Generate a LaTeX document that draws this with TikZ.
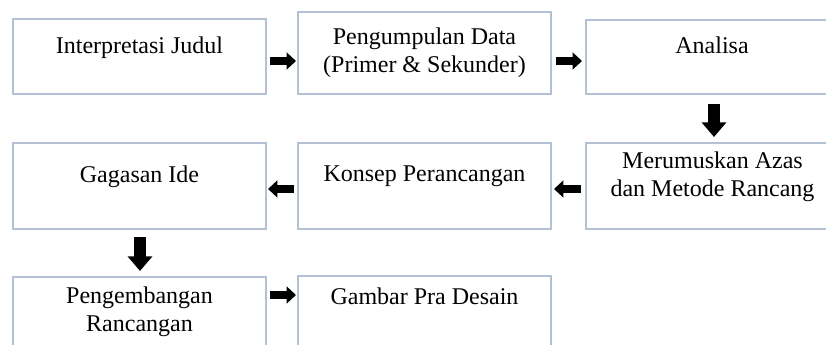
\documentclass[tikz,border=0pt]{standalone}
\usepackage{fontspec}
\setmainfont{Liberation Serif}
\usetikzlibrary{arrows.meta,calc}
\definecolor{boxline}{RGB}{180,192,212}
\begin{document}
\begin{tikzpicture}[x=0.75pt,y=-0.75pt,
  box/.style={draw=boxline,line width=1.5pt,minimum width=189.75pt,inner sep=0pt},
  txt/.style={font=\fontsize{18}{20.5}\selectfont,align=center,inner sep=0pt,anchor=north},
  harrow/.style={line width=6pt,-{Triangle[length=7pt,width=12.5pt]}},
  varrow/.style={line width=8.5pt,-{Triangle[length=11pt,width=18pt]}}]
\useasboundingbox (0,0) rectangle (826,345);
\clip (0,0) rectangle (826,345);
% boxes
\node[box,minimum height=56.25pt] (b1) at (139.5,56.5) {};
\node[box,minimum height=61.5pt]  (b2) at (424.5,53) {};
\node[box,minimum height=55.5pt]  (b3) at (712.5,57) {};
\node[box,minimum height=64.5pt]  (b4) at (139.5,186) {};
\node[box,minimum height=64.5pt]  (b5) at (424.5,186) {};
\node[box,minimum height=64.5pt]  (b6) at (712.5,186) {};
\node[box,minimum height=75pt]    (b7) at (139.5,327) {};
\node[box,minimum height=75pt]    (b8) at (424.5,326) {};
% texts
\node[txt] (t1) at (139.5,37) {Interpretasi Judul};
\node[txt] (t2) at (424.5,28) {Pengumpulan Data\\(Primer \& Sekunder)};
\node[txt] (t3) at (712,37) {Analisa};
\node[txt] (t4) at (139.5,166) {Gagasan Ide};
\node[txt] (t5) at (424.5,166) {Konsep Perancangan};
\node[txt] (t6) at (712.5,152) {Merumuskan Azas\\dan Metode Rancang};
\node[txt] (t7) at (139.5,287) {Pengembangan\\Rancangan};
\node[txt] (t8) at (424.5,288) {Gambar Pra Desain};
% row levels of the arrows
\coordinate (r1) at (0,61);
\coordinate (r2) at (0,189);
\coordinate (r3) at (0,295);
% connectors
\draw[harrow] ($(b1.east|-r1)+(3,0)$) -- ($(b2.west|-r1)+(-1,0)$);
\draw[harrow] ($(b2.east|-r1)+(4,0)$) -- ($(b3.west|-r1)+(-3,0)$);
\draw[varrow] ($(b3.south)+(1.5,9)$) -- ($(b6.north)+(1.5,-5)$);
\draw[harrow] ($(b6.west|-r2)+(-4,0)$) -- ($(b5.east|-r2)+(2,0)$);
\draw[harrow] ($(b5.west|-r2)+(-3,0)$) -- ($(b4.east|-r2)+(1,0)$);
\draw[varrow] ($(b4.south)+(0.5,7)$) -- ($(b7.north)+(0.5,-5)$);
\draw[harrow] ($(b7.east|-r3)+(3,0)$) -- ($(b8.west|-r3)+(-1,0)$);
\end{tikzpicture}
\end{document}
